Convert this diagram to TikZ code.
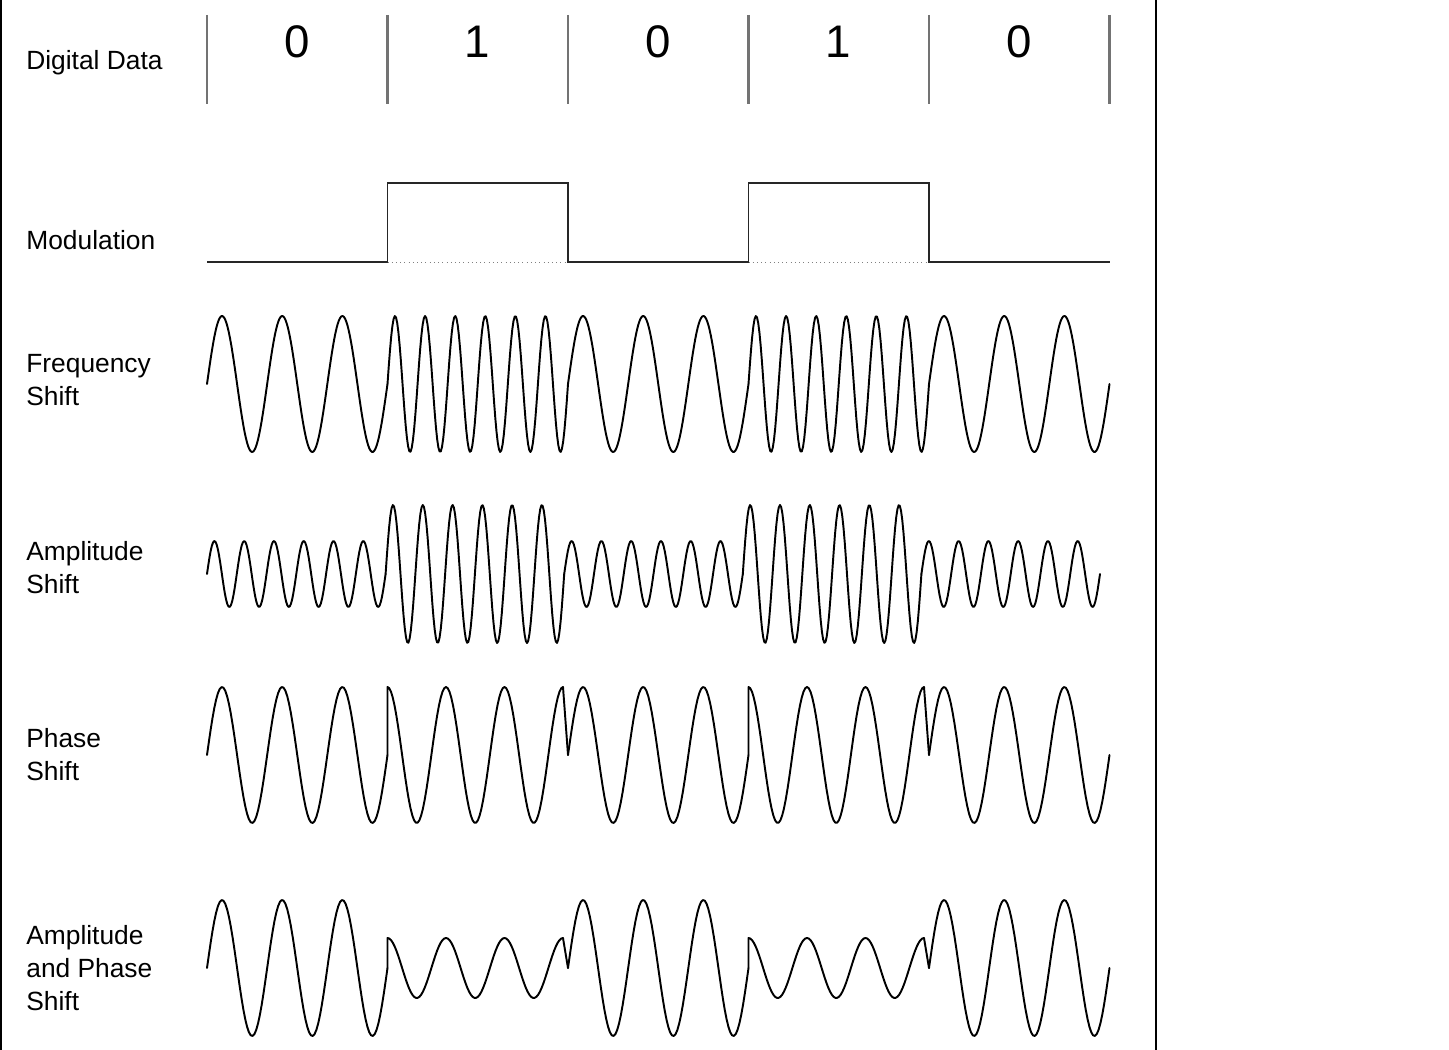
\documentclass[tikz,border=0pt]{standalone}
\usepackage{fontspec}
\setmainfont{Liberation Sans}

\begin{document}
\begin{tikzpicture}[x=0.02cm, y=0.02cm]
\tikzstyle{every node}+=[inner sep=0pt]
\tikzstyle{lbl}=[anchor=base west, align=left, font=\fontsize{15}{18.7}\selectfont]
\tikzstyle{bitval}=[font=\fontsize{26}{30}\selectfont]
\tikzstyle{tick}=[line width=1.6pt, black!55]
\tikzstyle{wave}=[line width=1.1pt, line cap=round, line join=round]
\useasboundingbox (0,0) rectangle (1449,-1050);

\draw [line width=1.2pt] (1,0) -- (1,-1050);
\draw [line width=0.7pt] (1156,0) -- (1156,-1050);

\node [lbl] (data) at (26,-70) {Digital Data};
\node [lbl] (mod) at (26,-250) {Modulation};
\node [lbl] (fsk) at (26,-405) {Frequency\\Shift};
\node [lbl] (ask) at (26,-593) {Amplitude\\Shift};
\node [lbl] (psk) at (26,-780) {Phase\\Shift};
\node [lbl] (apsk) at (26,-1010) {Amplitude\\and Phase\\Shift};

\foreach \i in {0,...,5}
  \draw [tick] (207+180.5*\i,-15) -- (207+180.5*\i,-104);
\foreach \b [count=\i from 0] in {0,1,0,1,0}
  \node [bitval] (bit\i) at (297+180.5*\i,-42) {\b};

\draw [line width=1.1pt, black!85] (207,-262) -- (387.5,-262) -- (387.5,-183) -- (568,-183) -- (568,-262) -- (748.5,-262) -- (748.5,-183) -- (929,-183) -- (929,-262) -- (1109.5,-262);
\draw [gray, dotted] (387.5,-262) -- (568,-262);
\draw [gray, dotted] (748.5,-262) -- (929,-262);

\foreach \b [count=\i from 0] in {0,1,0,1,0} {
  \pgfmathsetmacro\xa{207+180.5*\i}
  \draw [wave] plot [domain=\xa:\xa+180.5, samples=150] (\x,{-384+68*sin((\x-\xa)/180.5*360*(3+3*\b))});
}

\foreach \b [count=\i from 0] in {0,1,0,1,0} {
  \pgfmathsetmacro\xa{207+178.6*\i}
  \draw [wave] plot [domain=\xa:\xa+178.6, samples=150] (\x,{-574+(33+36*\b)*sin((\x-\xa)/178.6*2160)});
}

\foreach \i in {0,2,4} {
  \pgfmathsetmacro\xa{207+180.5*\i}
  \draw [wave] plot [domain=\xa:\xa+180.5, samples=100] (\x,{-755+68*sin((\x-\xa)/180.5*1080)});
  \draw [wave] plot [domain=\xa:\xa+180.5, samples=100] (\x,{-968+68*sin((\x-\xa)/180.5*1080)});
}
\foreach \i in {1,3} {
  \pgfmathsetmacro\xa{207+180.5*\i}
  \draw [wave] (\xa,-755) -- plot [domain=\xa:\xa+175.5, samples=100] (\x,{-755+68*cos((\x-\xa)/175.5*1080)}) -- (\xa+180.5,-755);
  \draw [wave] (\xa,-968) -- plot [domain=\xa:\xa+175.5, samples=100] (\x,{-968+30*cos((\x-\xa)/175.5*1080)}) -- (\xa+180.5,-968);
}
\end{tikzpicture}
\end{document}
